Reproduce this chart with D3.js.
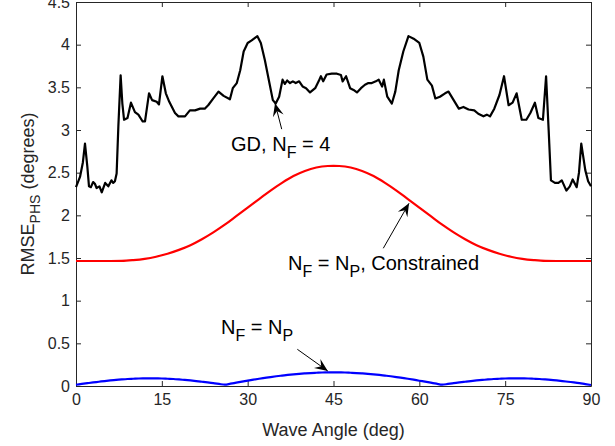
<!DOCTYPE html>
<html>
<head>
<meta charset="utf-8">
<script src="https://cdn.jsdelivr.net/npm/d3@7"></script>
<style>
  html, body { margin: 0; padding: 0; background: #fff; }
  svg text { font-family: "Liberation Sans", Arial, Helvetica, sans-serif; white-space: pre; }
</style>
</head>
<body>
<svg id="chart" width="615" height="446"></svg>
<script>
// ---------------- data ----------------
const xTicks = [0, 15, 30, 45, 60, 75, 90];
const yTicks = [0, 0.5, 1, 1.5, 2, 2.5, 3, 3.5, 4, 4.5];
const yTickLabels = ["0", "0.5", "1", "1.5", "2", "2.5", "3", "3.5", "4", "4.5"];

// GD, N_F = 4 (black)
const angleBlack = [0,0.7,1.2,1.57,1.98,2.27,2.6,3.0,3.3,3.6,4.1,4.5,5.1,5.65,6.2,6.5,6.8,7.1,7.4,7.8,8.1,8.4,9.0,9.6,10.3,10.9,11.65,12.06,12.76,13.3,14.1,14.5,15.1,15.7,16.3,17.3,17.9,19.05,19.9,20.8,21.7,22.5,23.1,24.0,24.9,25.8,26.9,27.4,28.1,28.7,29.3,30.0,30.7,31.7,32.3,33.0,33.8,34.4,34.9,35.5,36.1,36.5,36.9,37.4,37.9,38.4,39.0,39.6,40.2,40.9,41.8,42.4,42.8,43.2,43.8,44.7,45.6,46.3,46.6,47.2,47.9,48.5,49.1,49.8,50.5,51.1,51.7,52.4,52.9,53.5,53.8,54.4,55.2,55.8,56.4,57.2,58.1,59.0,60.0,60.7,61.4,62.2,62.8,63.6,64.5,65.1,66.0,66.9,67.7,68.6,69.6,70.3,71.2,71.8,72.35,73.1,74.0,74.8,75.6,76.3,77.0,77.9,78.7,79.4,80.2,80.8,81.6,82.15,82.6,83.0,83.7,84.3,84.9,85.7,86.3,86.8,87.5,87.9,88.3,89.0,89.5,90];
const rmseBlack = [2.33,2.45,2.62,2.84,2.57,2.34,2.33,2.39,2.37,2.32,2.34,2.27,2.38,2.34,2.41,2.38,2.40,2.49,3.04,3.64,3.31,3.12,3.14,3.32,3.21,3.18,3.10,3.10,3.43,3.35,3.33,3.30,3.63,3.43,3.33,3.20,3.16,3.16,3.23,3.23,3.25,3.25,3.29,3.37,3.45,3.40,3.36,3.49,3.55,3.70,3.92,4.02,4.05,4.10,4.02,3.82,3.55,3.35,3.31,3.39,3.59,3.54,3.58,3.55,3.57,3.55,3.57,3.51,3.49,3.44,3.49,3.57,3.63,3.57,3.65,3.66,3.66,3.645,3.57,3.63,3.49,3.47,3.44,3.49,3.53,3.55,3.55,3.57,3.59,3.51,3.59,3.39,3.31,3.45,3.70,3.92,4.10,4.07,4.02,3.86,3.59,3.52,3.37,3.39,3.43,3.45,3.35,3.25,3.27,3.24,3.23,3.19,3.16,3.18,3.16,3.25,3.41,3.63,3.29,3.32,3.43,3.12,3.12,3.20,3.32,3.14,3.12,3.63,3.00,2.41,2.38,2.38,2.41,2.29,2.34,2.42,2.33,2.50,2.84,2.53,2.40,2.34];

// N_F = N_P, Constrained (red)
const angleRed = [0,2,4,6,8,10,12,14,16,18,20,22,24,26,28,30,32,34,36,38,40,42,44,45,46,48,50,52,54,56,58,60,62,64,66,68,70,72,74,76,78,80,82,84,86,88,90];
const rmseRed = [1.465,1.465,1.465,1.465,1.466,1.475,1.49,1.515,1.55,1.595,1.65,1.72,1.80,1.89,1.99,2.09,2.19,2.29,2.38,2.46,2.52,2.56,2.578,2.58,2.578,2.56,2.52,2.46,2.38,2.29,2.19,2.09,1.99,1.89,1.80,1.72,1.65,1.595,1.55,1.515,1.49,1.475,1.466,1.465,1.465,1.465,1.465];

// N_F = N_P (blue)
const angleBlue = [0,1,2,3,4,5,6,7,8,9,10,11,12,13,14,15,16,17,18,19,20,21,22,23,24,25,26,27,28,29,30,31,32,33,34,35,36,37,38,39,40,41,42,43,44,45,46,47,48,49,50,51,52,53,54,55,56,57,58,59,60,61,62,63,64,65,66,67,68,69,70,71,72,73,74,75,76,77,78,79,80,81,82,83,84,85,86,87,88,89,90];
const rmseBlue = [0.015,0.024,0.033,0.042,0.050,0.058,0.065,0.071,0.077,0.082,0.085,0.088,0.089,0.090,0.089,0.088,0.085,0.082,0.077,0.071,0.065,0.058,0.050,0.042,0.033,0.024,0.016,
  0.027,0.039,0.051,0.062,0.074,0.085,0.095,0.105,0.114,0.122,0.130,0.137,0.143,0.148,0.152,0.155,0.158,0.159,0.160,0.159,0.158,0.155,0.152,0.148,0.143,0.137,0.130,0.122,0.114,0.105,0.095,0.085,0.074,0.062,0.051,0.039,0.027,0.016,
  0.024,0.033,0.042,0.050,0.058,0.065,0.071,0.077,0.082,0.085,0.088,0.089,0.090,0.089,0.088,0.085,0.082,0.077,0.071,0.065,0.058,0.050,0.042,0.033,0.022,0.012];

// annotations: text anchor (data units), arrow tail -> tip (data units)
const annotations = [
  { parts: [["GD, N", false], ["F", true], [" = 4", false]], tx: 27.1, ty: 2.75, ax0: 35.95, ay0: 3.01, ax1: 34.78, ay1: 3.313 },
  { parts: [["N", false], ["F", true], [" = N", false], ["P", true], [", Constrained", false]], tx: 37.05, ty: 1.36, ax0: 53.7, ay0: 1.614, ax1: 58.2, ay1: 2.141 },
  { parts: [["N", false], ["F", true], [" = N", false], ["P", true]], tx: 25.35, ty: 0.61, ax0: 38.68, ay0: 0.43, ax1: 44.0, ay1: 0.176 }
];

// ---------------- chart ----------------
const plotLeft = 76, plotRight = 591, plotTop = 2, plotBottom = 386;
const axisColor = "#262626";
const svg = d3.select("#chart");

const x = d3.scaleLinear().domain([0, 90]).range([plotLeft, plotRight]);
const y = d3.scaleLinear().domain([0, 4.5]).range([plotBottom, plotTop]);

// axes
const gx = svg.append("g").attr("transform", `translate(0,${plotBottom})`)
  .call(d3.axisBottom(x).tickValues(xTicks).tickSizeInner(-5).tickSizeOuter(0).tickPadding(8).tickFormat(d3.format("d")));
const gxt = svg.append("g").attr("transform", `translate(0,${plotTop})`)
  .call(d3.axisTop(x).tickValues(xTicks).tickSizeInner(-5).tickSizeOuter(0).tickFormat(""));
const gy = svg.append("g").attr("transform", `translate(${plotLeft},0)`)
  .call(d3.axisLeft(y).tickValues(yTicks).tickSizeInner(-5).tickSizeOuter(0).tickPadding(6)
    .tickFormat((d, i) => yTickLabels[i]));
const gyr = svg.append("g").attr("transform", `translate(${plotRight},0)`)
  .call(d3.axisRight(y).tickValues(yTicks).tickSizeInner(-5).tickSizeOuter(0).tickFormat(""));

[gx, gxt, gy, gyr].forEach(g => {
  g.select(".domain").attr("stroke", axisColor).attr("stroke-width", 1);
  g.selectAll(".tick line").attr("stroke", axisColor).attr("stroke-width", 1);
  g.selectAll(".tick text").attr("fill", axisColor)
    .style("font-family", '"Liberation Sans", Arial, Helvetica, sans-serif').style("font-size", "16px");
});

// lines
const line = d3.line().x(d => x(d[0])).y(d => y(d[1]));
const smooth = d3.line().x(d => x(d[0])).y(d => y(d[1])).curve(d3.curveMonotoneX);

const plot = svg.append("g");
plot.append("path").datum(d3.zip(angleRed, rmseRed))
  .attr("d", smooth).attr("fill", "none").attr("stroke", "#ff0000").attr("stroke-width", 2.2);
plot.append("path").datum(d3.zip(angleBlue, rmseBlue))
  .attr("d", smooth).attr("fill", "none").attr("stroke", "#0000ff").attr("stroke-width", 2.2);
plot.append("path").datum(d3.zip(angleBlack, rmseBlack))
  .attr("d", line).attr("fill", "none").attr("stroke", "#000").attr("stroke-width", 2.2)
  .attr("stroke-linejoin", "round");

// axis labels
svg.append("text")
  .attr("x", (plotLeft + plotRight) / 2).attr("y", 436)
  .attr("text-anchor", "middle").attr("fill", axisColor).style("font-size", "18px")
  .text("Wave Angle (deg)");

const yl = svg.append("text")
  .attr("transform", `translate(34,${(plotTop + plotBottom) / 2}) rotate(-90)`)
  .attr("text-anchor", "middle").attr("fill", axisColor).style("font-size", "18px");
yl.append("tspan").text("RMSE");
yl.append("tspan").attr("dy", 6).style("font-size", "14px").text("PHS");
yl.append("tspan").attr("dy", -6).text(" (degrees)");

// annotations
function arrowHead(x0, y0, x1, y1) {
  const dx = x1 - x0, dy = y1 - y0, len = Math.hypot(dx, dy);
  const ux = dx / len, uy = dy / len, nx = -uy, ny = ux;
  const L = 13, Wd = 5.5, N = 0.62 * L;
  const p = [
    [x1, y1],
    [x1 - L * ux + Wd * nx, y1 - L * uy + Wd * ny],
    [x1 - N * ux, y1 - N * uy],
    [x1 - L * ux - Wd * nx, y1 - L * uy - Wd * ny]
  ];
  return "M" + p.map(q => q.join(",")).join("L") + "Z";
}

annotations.forEach(a => {
  const t = svg.append("text").attr("x", x(a.tx)).attr("y", y(a.ty))
    .attr("fill", "#000").style("font-size", "20px");
  let down = false;
  a.parts.forEach(([s, sub]) => {
    const ts = t.append("tspan").text(s);
    if (sub) { ts.attr("dy", 7).style("font-size", "16px"); down = true; }
    else if (down) { ts.attr("dy", -7); down = false; }
  });
  const x0 = x(a.ax0), y0 = y(a.ay0), x1 = x(a.ax1), y1 = y(a.ay1);
  svg.append("line").attr("x1", x0).attr("y1", y0).attr("x2", x1).attr("y2", y1)
    .attr("stroke", "#000").attr("stroke-width", 1);
  svg.append("path").attr("d", arrowHead(x0, y0, x1, y1)).attr("fill", "#000");
});
</script>
</body>
</html>
